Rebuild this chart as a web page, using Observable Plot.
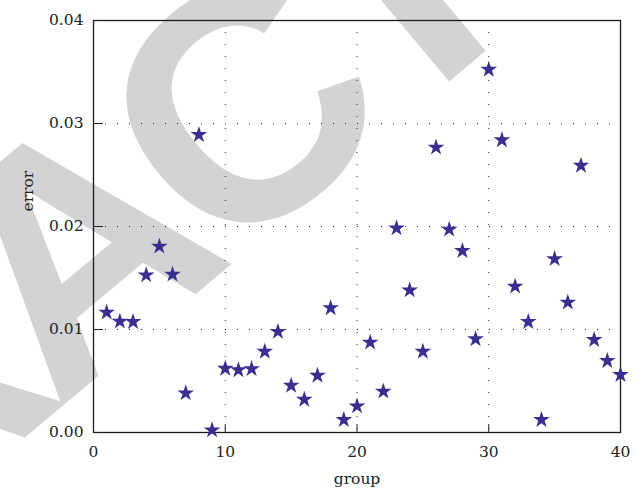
<!DOCTYPE html>
<html>
<head>
<meta charset="utf-8">
<script src="https://cdn.jsdelivr.net/npm/d3@7"></script>
<script src="https://cdn.jsdelivr.net/npm/@observablehq/plot@0.6"></script>
<style>
  html, body { margin: 0; padding: 0; background: #fff; overflow: hidden; }
  #chart svg { display: block; overflow: hidden; }
  #chart g[font-size="330"] text { letter-spacing: -20px; }
</style>
</head>
<body>
<div id="chart"></div>
<script>
const groups = [1,2,3,4,5,6,7,8,9,10,11,12,13,14,15,16,17,18,19,20,21,22,23,24,25,26,27,28,29,30,31,32,33,34,35,36,37,38,39,40];
const errors = [0.01165,0.01078,0.01075,0.01528,0.01806,0.01534,0.00382,0.0289,0.00023,0.00621,
                0.00606,0.00618,0.00786,0.00978,0.00456,0.0032,0.00553,0.01208,0.00123,0.00256,
                0.00874,0.00398,0.01984,0.01382,0.00786,0.02767,0.01971,0.01764,0.00907,0.03524,
                0.02839,0.01418,0.01075,0.00123,0.01686,0.01262,0.02592,0.009,0.00696,0.0056];
const xTicks = [0,10,20,30,40];
const yTicks = [0,0.01,0.02,0.03,0.04];
const xGrid = [10,20,30];
const yGrid = [0.01,0.02,0.03];
const xLabel = "group";
const yLabel = "error";
const watermark = "RETRACTED";

const data = groups.map((g, i) => ({group: g, error: errors[i]}));
const serif = "DejaVu Serif";

const chart = Plot.plot({
  width: 641,
  height: 495,
  marginLeft: 93,
  marginRight: 21,
  marginTop: 20,
  marginBottom: 63,
  x: {domain: [0, 40]},
  y: {domain: [0, 0.04]},
  style: {fontFamily: serif, fontSize: "15px", background: "white", color: "#222"},
  marks: [
    Plot.text([watermark], {frameAnchor: "top-left", textAnchor: "middle", lineAnchor: "middle",
      dx: -22, dy: 240, rotate: -40,
      fontSize: 330, fontWeight: "bold", fontFamily: "Liberation Sans", fill: "#d3d3d3"}),
    Plot.gridX(xGrid, {stroke: "#222", strokeOpacity: 1, strokeWidth: 1, strokeDasharray: "1 11"}),
    Plot.gridY(yGrid, {stroke: "#222", strokeOpacity: 1, strokeWidth: 1, strokeDasharray: "1 11"}),
    Plot.frame({stroke: "#1a1a1a", strokeWidth: 1.3}),
    Plot.axisX(xTicks, {tickSize: -8, tickPadding: 21, label: null, tickFormat: d3.format("d"), fontSize: 15.5}),
    Plot.axisY(yTicks, {tickSize: -10, tickPadding: 20, label: null, tickFormat: d3.format(".2f"), fontSize: 15.5}),
    Plot.dot(data, {x: "group", y: "error", symbol: "star", r: 5.25, fill: "#392f8e", stroke: "none"}),
    Plot.text([xLabel], {frameAnchor: "bottom", dy: 51, fontSize: 15.5, fill: "#222"}),
    Plot.text([yLabel], {frameAnchor: "left", dx: -65, dy: -15, rotate: -90, fontSize: 15.5, fill: "#222"})
  ]
});
document.getElementById("chart").appendChild(chart);
</script>
</body>
</html>
